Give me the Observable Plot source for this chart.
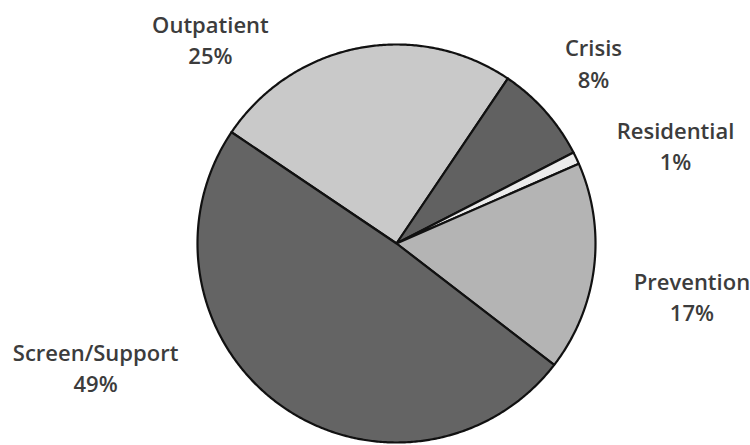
<!DOCTYPE html>
<html>
<head>
<meta charset="utf-8">
<script src="https://cdn.jsdelivr.net/npm/d3@7"></script>
<script src="https://cdn.jsdelivr.net/npm/@observablehq/plot@0.6"></script>
<style>
  html, body { margin: 0; padding: 0; background: #fff; }
  #chart svg { display: block; }
</style>
</head>
<body>
<div id="chart"></div>
<script>
// ---- data ----
const categories = ["Outpatient", "Crisis", "Residential", "Prevention", "Screen/Support"];
const percents = [25, 8, 1, 17, 49];

// ---- styles / layout ----
const sliceFills = ["#c9c9c9", "#616161", "#ececec", "#b4b4b4", "#646464"];
const W = 750, H = 445;
const cx = 396, cy = 243, R = 199;
const startDeg = -56;
// label placement, polar around pie center: [angle deg clockwise from top, distance px]
const labelAngle = [-42.2, 47.3, 70.5, 100.0, 247.8];
const labelDist = [277, 268, 296, 300, 325];

const rad = d => d * Math.PI / 180;
const arcs = d3.pie().sort(null)
  .startAngle(rad(startDeg)).endAngle(rad(startDeg) + 2 * Math.PI)(percents);

const pts = [];
arcs.forEach((a, i) => {
  const name = categories[i];
  pts.push({name, x: cx, y: cy});
  const n = Math.max(4, Math.ceil((a.endAngle - a.startAngle) / rad(0.5)));
  for (let k = 0; k <= n; k++) {
    const t = a.startAngle + (a.endAngle - a.startAngle) * k / n;
    pts.push({name, x: cx + R * Math.sin(t), y: cy - R * Math.cos(t)});
  }
  pts.push({name, x: cx, y: cy});
});

const labels = categories.map((name, i) => ({
  text: `${name}\n${percents[i]}%`,
  x: cx + labelDist[i] * Math.sin(rad(labelAngle[i])),
  y: cy - labelDist[i] * Math.cos(rad(labelAngle[i]))
}));

const chart = Plot.plot({
  width: W, height: H,
  margin: 0,
  x: {domain: [0, W], range: [0, W], axis: null},
  y: {domain: [0, H], range: [0, H], axis: null},
  color: {domain: categories, range: sliceFills},
  marks: [
    Plot.line(pts, {x: "x", y: "y", z: "name", fill: "name", stroke: "#111", strokeWidth: 2.2, strokeLinejoin: "round"}),
    Plot.text(labels, {x: "x", y: "y", text: "text", fontSize: 22, lineHeight: 1.43,
      fill: "#3c3c3c", fontFamily: "Open Sans", fontWeight: 600, textAnchor: "middle"})
  ]
});
document.getElementById("chart").appendChild(chart);
</script>
</body>
</html>
